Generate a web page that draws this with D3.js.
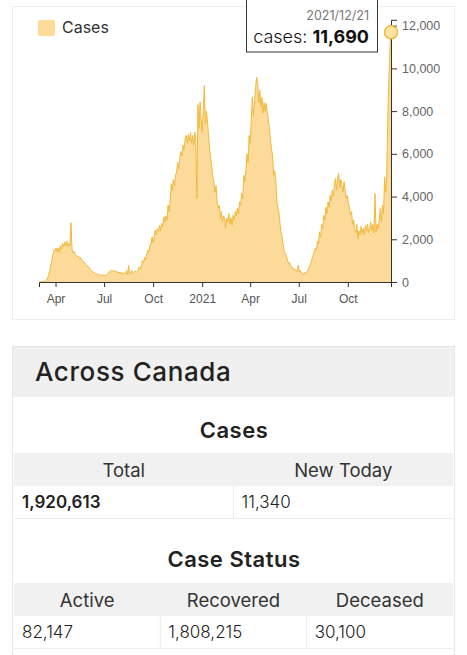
<!DOCTYPE html>
<html>
<head>
<meta charset="utf-8">
<script src="https://cdn.jsdelivr.net/npm/d3@7"></script>
<style>
  body { margin: 0; background: #fff; }
  svg { display: block; font-family: Inter, "Noto Sans", sans-serif; }
</style>
</head>
<body>
<script>
// daily new cases, read every second day off the chart
var stepDays = 2
var start2020 = '2020-03-01'
var cases2020 = [
  // Mar
  0, 0, 5, 10, 20, 30, 50, 90, 190, 320, 500, 790, 1000, 1250, 1500, 1460,
  // Apr
  1600, 1420, 1590, 1380, 1700, 1520, 1810, 1640, 1880, 1700, 1920, 1650, 1800, 1700, 2770,
  // May
  1500, 1350, 1420, 1300, 1250, 1180, 1220, 1100, 1150, 1030, 1000, 950, 870, 820, 760,
  // Jun
  715, 680, 600, 560, 480, 470, 420, 400, 380, 360, 330, 350, 310, 330, 300,
  // Jul
  320, 290, 330, 360, 420, 480, 520, 560, 500, 540, 480, 520, 450, 480, 420, 460,
  // Aug
  380, 450, 360, 420, 400, 520, 350, 790, 380, 420, 540, 380, 430, 520, 460,
  // Sep
  480, 560, 700, 620, 800, 1000, 900, 1150, 1050, 1300, 1500, 1400, 1700, 1800, 2120,
  // Oct
  1850, 2100, 2430, 2200, 2500, 2350, 2660, 2400, 2740, 2600, 3050, 2800, 3100, 2900, 3600, 3300,
  // Nov
  3800, 4600, 4300, 4800, 4500, 5000, 5150, 5600, 5300, 5800, 6100, 5900, 6400, 6200, 6700,
  // Dec
  6860, 6500, 6900, 6600, 7000, 6500, 6860, 6400, 7020, 6600, 3910, 8300, 7200, 8420, 7600
]
var start2021 = '2021-01-01'
var cases2021 = [
  // Jan
  7000, 8100, 9200, 7400, 8000, 7490, 6800, 6200, 5780, 5400, 4900, 4680, 4200, 4500, 3750, 3460,
  // Feb
  3600, 2970, 3300, 2800, 3100, 2990, 2520, 3000, 2820, 3200, 2700, 3000, 2660, 3130,
  // Mar
  2900, 3300, 3100, 3460, 3200, 3750, 3600, 4150, 3900, 5000, 4700, 5230, 6000, 5600, 6860,
  // Apr
  6500, 7600, 8650, 7800, 8300, 9100, 9600, 9300, 8400, 8970, 8200, 8650, 7900, 8400, 8000,
  // May
  8360, 7950, 7600, 7200, 6650, 6200, 5900, 5000, 5200, 4760, 3800, 3460, 3220, 2700, 2300, 2120,
  // Jun
  1700, 1420, 1350, 1180, 1000, 870, 900, 760, 715, 650, 560, 600, 520, 480, 790,
  // Jul
  460, 560, 420, 400, 350, 450, 400, 480, 550, 650, 790, 900, 1100, 1250, 1400, 1570,
  // Aug
  1500, 1900, 1800, 2350, 2100, 2700, 2500, 3130, 2900, 3500, 3200, 3750, 3500, 4060, 3800,
  // Sep
  4300, 4000, 4600, 4840, 4300, 4900, 5080, 4400, 4800, 4530, 4200, 4700, 4300, 3900, 4060,
  // Oct
  3700, 3500, 3130, 3300, 2700, 2900, 2510, 2300, 2700, 2040, 2400, 2200, 2600, 2300, 2510,
  // Nov
  2200, 2660, 2400, 2700, 2300, 2510, 2800, 2400, 2700, 2300, 4140, 2350, 2700, 2500, 2900,
  // Dec
  3440, 2820, 3600, 3200, 4920, 4200, 5000, 7800, 9500, 10900, 11690
]

var yTicks = [0, 2000, 4000, 6000, 8000, 10000, 12000]
var seriesName = 'Cases'

var casesHeaders = ['Total', 'New Today']
var casesValues = [1920613, 11340]
var statusHeaders = ['Active', 'Recovered', 'Deceased']
var statusValues = [82147, 1808215, 30100]

var fillColor = '#fbda9a'
var lineColor = '#f1ba3e'

var W = 467
var H = 655
var parse = d3.timeParse('%Y-%m-%d')

function series (startStr, values) {
  var s = parse(startStr)
  return values.map(function (v, i) {
    return { date: d3.timeDay.offset(s, i * stepDays), value: v }
  })
}
var data = series(start2020, cases2020).concat(series(start2021, cases2021))
var last = data[data.length - 1]

var svg = d3.select('body').append('svg')
  .attr('width', W)
  .attr('height', H)

// ---------- chart card ----------
svg.append('rect')
  .attr('x', 12.5).attr('y', 6.5)
  .attr('width', 442).attr('height', 313)
  .attr('fill', 'none').attr('stroke', '#eeeeee')

var x = d3.scaleTime()
  .domain(d3.extent(data, function (d) { return d.date }))
  .range([39, 391])
var y = d3.scaleLinear()
  .domain([0, d3.max(data, function (d) { return d.value }) * 1.05])
  .range([282, 19.8])

var area = d3.area()
  .x(function (d) { return x(d.date) })
  .y0(y(0))
  .y1(function (d) { return y(d.value) })
var line = d3.line()
  .x(function (d) { return x(d.date) })
  .y(function (d) { return y(d.value) })

svg.append('path').datum(data)
  .attr('d', area)
  .attr('fill', fillColor)
svg.append('path').datum(data)
  .attr('d', line)
  .attr('fill', 'none')
  .attr('stroke', lineColor)
  .attr('stroke-width', 1)

// x axis
var fmtMonth = d3.timeFormat('%b')
var fmtYear = d3.timeFormat('%Y')
var xAxis = svg.append('g')
  .attr('transform', 'translate(0,' + y(0) + ')')
  .call(d3.axisBottom(x)
    .ticks(d3.timeMonth.every(3))
    .tickSize(5)
    .tickFormat(function (d) { return d.getMonth() === 0 ? fmtYear(d) : fmtMonth(d) }))
xAxis.selectAll('text').attr('font-size', 12).attr('fill', '#555').attr('dy', '1.05em')
xAxis.selectAll('line,path').attr('stroke', '#333')

// y axis on the right
var yAxis = svg.append('g')
  .attr('transform', 'translate(' + x.range()[1] + ',0)')
  .call(d3.axisRight(y)
    .tickValues(yTicks)
    .tickSize(6)
    .tickFormat(d3.format(',')))
yAxis.selectAll('text').attr('font-size', 12.5).attr('fill', '#666').attr('x', 11)
yAxis.selectAll('line,path').attr('stroke', '#333')

// legend
svg.append('rect')
  .attr('x', 38).attr('y', 20)
  .attr('width', 17).attr('height', 16).attr('rx', 2)
  .attr('fill', fillColor)
svg.append('text')
  .attr('x', 62).attr('y', 33)
  .attr('font-size', 16).attr('fill', '#333')
  .text(seriesName)

// tooltip for the last point
svg.append('rect')
  .attr('x', 246.5).attr('y', -5)
  .attr('width', 131).attr('height', 57)
  .attr('fill', '#fff').attr('stroke', '#333')
svg.append('text')
  .attr('x', 369).attr('y', 20)
  .attr('text-anchor', 'end')
  .attr('font-size', 12.5).attr('fill', '#777')
  .text(d3.timeFormat('%Y/%m/%d')(last.date))
var tip = svg.append('text')
  .attr('x', 369).attr('y', 43)
  .attr('text-anchor', 'end')
  .attr('font-size', 18).attr('fill', '#111')
tip.append('tspan').attr('font-weight', 300).text(seriesName.toLowerCase() + ': ')
tip.append('tspan').attr('font-weight', 700).text(d3.format(',')(last.value))

svg.append('circle')
  .attr('cx', x(last.date)).attr('cy', y(last.value))
  .attr('r', 6.5)
  .attr('fill', '#fde3a4')
  .attr('stroke', lineColor).attr('stroke-width', 1.5)

// ---------- Across Canada card ----------
var card = { x: 12.5, y: 346.5, w: 442 }
svg.append('rect')
  .attr('x', card.x).attr('y', card.y)
  .attr('width', card.w).attr('height', 320)
  .attr('fill', 'none').attr('stroke', '#e6e6e6')
svg.append('rect')
  .attr('x', card.x + 0.5).attr('y', card.y + 0.5)
  .attr('width', card.w - 1).attr('height', 50)
  .attr('fill', '#f0f0f0')
svg.append('text')
  .attr('x', 35).attr('y', 381)
  .attr('font-size', 26).attr('font-weight', 500).attr('fill', '#222')
  .attr('letter-spacing', 0.6)
  .text('Across Canada')

function statTable (title, titleY, headers, values, rowY) {
  var left = 14
  var right = 453
  var colW = (right - left) / headers.length
  var fmt = d3.format(',')

  svg.append('text')
    .attr('x', 234).attr('y', titleY)
    .attr('text-anchor', 'middle')
    .attr('font-size', 22).attr('font-weight', 600).attr('fill', '#222')
    .attr('letter-spacing', 0.5)
    .text(title)

  svg.append('rect')
    .attr('x', left).attr('y', rowY)
    .attr('width', right - left).attr('height', 33)
    .attr('fill', '#f1f1f1')

  svg.selectAll(null).data(headers).enter().append('text')
    .attr('x', function (d, i) { return left + colW * (i + 0.5) })
    .attr('y', rowY + 24)
    .attr('text-anchor', 'middle')
    .attr('font-size', 18.5).attr('fill', '#333')
    .text(function (d) { return d })

  svg.selectAll(null).data(values).enter().append('text')
    .attr('x', function (d, i) { return left + colW * i + 8 })
    .attr('y', rowY + 55)
    .attr('font-size', 17)
    .attr('font-weight', function (d, i) { return headers.length === 2 && i === 0 ? 600 : 300 })
    .attr('fill', '#222')
    .text(function (d) { return fmt(d) })

  // cell separators
  svg.selectAll(null).data(d3.range(1, headers.length)).enter().append('line')
    .attr('x1', function (i) { return left + colW * i }).attr('x2', function (i) { return left + colW * i })
    .attr('y1', rowY + 33).attr('y2', rowY + 65)
    .attr('stroke', '#ececec')
  svg.append('line')
    .attr('x1', left).attr('x2', right)
    .attr('y1', rowY + 65.5).attr('y2', rowY + 65.5)
    .attr('stroke', '#ececec')
}

statTable('Cases', 438, casesHeaders, casesValues, 453)
statTable('Case Status', 567, statusHeaders, statusValues, 583)
</script>
</body>
</html>
